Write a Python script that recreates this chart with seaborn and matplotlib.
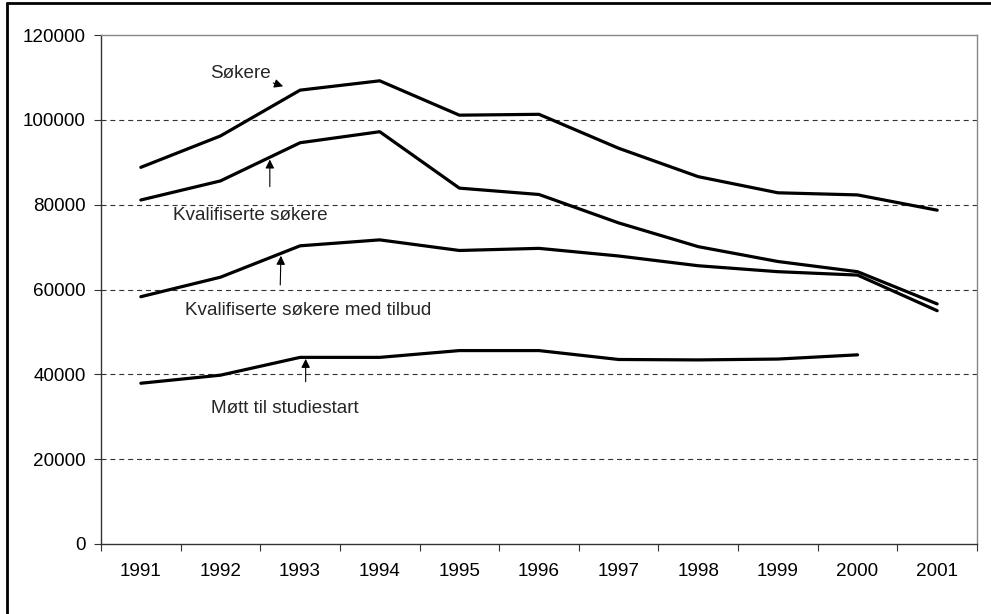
import numpy as np
import pandas as pd
import seaborn as sns
import matplotlib.pyplot as plt
from matplotlib.lines import Line2D

years = ['1991', '1992', '1993', '1994', '1995', '1996', '1997', '1998', '1999', '2000', '2001']
sokere = [88800, 96200, 107000, 109200, 101100, 101300, 93300, 86600, 82800, 82300, 78700]
kval_sokere = [81100, 85600, 94600, 97200, 83900, 82400, 75700, 70100, 66600, 64200, 56600]
kval_tilbud = [58300, 62900, 70300, 71700, 69200, 69700, 67900, 65600, 64200, 63400, 55000]
mott = [37900, 39800, 44000, 44000, 45600, 45600, 43500, 43400, 43600, 44600, np.nan]

series = {
    'Søkere': sokere,
    'Kvalifiserte søkere': kval_sokere,
    'Kvalifiserte søkere med tilbud': kval_tilbud,
    'Møtt til studiestart': mott,
}

rows = []
for name, vals in series.items():
    for i, v in enumerate(vals):
        rows.append({'pos': i, 'antall': v, 'serie': name})
df = pd.DataFrame(rows)

sns.set_theme(style='white')
plt.rcParams['font.family'] = ['Liberation Sans', 'DejaVu Sans']
fs = 13.6

fig = plt.figure(figsize=(9.91, 6.14), dpi=100)
ax = fig.add_axes([101 / 991, 70 / 614, 876 / 991, 509 / 614])

sns.lineplot(data=df, x='pos', y='antall', hue='serie', palette=['black'] * 4,
             linewidth=2.3, legend=False, ax=ax, estimator=None)

# dashed gridlines
for y in range(20000, 120000, 20000):
    ax.axhline(y, color='#333333', ls=(0, (4.5, 3.5)), lw=0.8, zorder=0)

ax.set_xlim(-0.5, 10.5)
ax.set_ylim(0, 120000)
ax.set_xlabel('')
ax.set_ylabel('')

ax.set_yticks(range(0, 120001, 20000))
ax.set_yticklabels([str(v) for v in range(0, 120001, 20000)], fontsize=fs, color='black')
ax.tick_params(axis='y', direction='out', length=5, width=0.8, pad=6, left=True, color='#333333')

ax.set_xticks(np.arange(-0.5, 11, 1))
ax.set_xticklabels([])
ax.set_xticks(range(11), minor=True)
ax.set_xticklabels(years, minor=True, fontsize=fs, color='black')
ax.tick_params(axis='x', which='major', direction='out', length=5, width=0.8, bottom=True, color='#333333')
ax.tick_params(axis='x', which='minor', length=0, pad=14)

for side in ['top', 'right']:
    ax.spines[side].set_color('#888888')
    ax.spines[side].set_linewidth(1)
for side in ['left', 'bottom']:
    ax.spines[side].set_color('#333333')
    ax.spines[side].set_linewidth(1)

# annotations
arrow = dict(arrowstyle='-|>', color='black', lw=0.8, mutation_scale=13)
ax.text(1.25, 111000, 'Søkere', fontsize=fs, ha='center', va='center')
ax.annotate('', xy=(1.82, 107700), xytext=(1.63, 108900), arrowprops=arrow)
ax.text(1.37, 77500, 'Kvalifiserte søkere', fontsize=fs, ha='center', va='center')
ax.annotate('', xy=(1.62, 91300), xytext=(1.62, 83600), arrowprops=arrow)
ax.text(2.1, 55000, 'Kvalifiserte søkere med tilbud', fontsize=fs, ha='center', va='center')
ax.annotate('', xy=(1.76, 68600), xytext=(1.75, 60400), arrowprops=arrow)
ax.text(1.81, 32000, 'Møtt til studiestart', fontsize=fs, ha='center', va='center')
ax.annotate('', xy=(2.07, 44300), xytext=(2.07, 37600), arrowprops=arrow)

# outer frame (left and top edges visible)
fig.add_artist(Line2D([7 / 991, 7 / 991], [0, 1 - 3 / 614], transform=fig.transFigure, color='black', lw=2))
fig.add_artist(Line2D([7 / 991, 1], [1 - 3 / 614, 1 - 3 / 614], transform=fig.transFigure, color='black', lw=2))

fig.savefig('out.png', dpi=100)
